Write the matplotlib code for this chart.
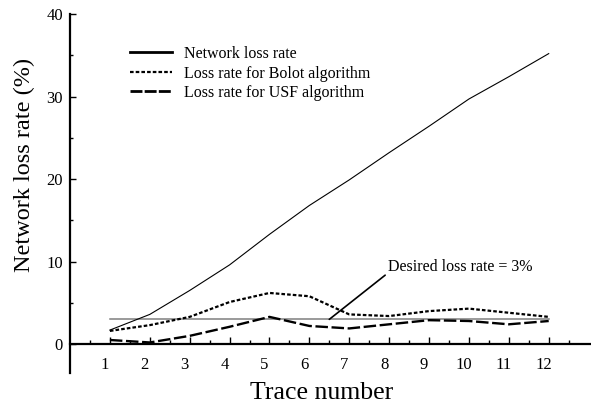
import matplotlib
matplotlib.use("Agg")
import matplotlib.pyplot as plt
from matplotlib.lines import Line2D
from matplotlib.ticker import FixedLocator
import matplotlib.transforms as mtransforms

# ---- data ----
traces = [1, 2, 3, 4, 5, 6, 7, 8, 9, 10, 11, 12]
network_loss = [1.7, 3.6, 6.5, 9.6, 13.3, 16.8, 19.9, 23.2, 26.4, 29.7, 32.4, 35.2]
bolot_loss = [1.6, 2.3, 3.3, 5.1, 6.2, 5.8, 3.6, 3.4, 4.0, 4.3, 3.8, 3.3]
usf_loss = [0.5, 0.2, 1.0, 2.1, 3.3, 2.2, 1.9, 2.4, 2.9, 2.8, 2.4, 2.8]
desired_rate = 3.0
legend_labels = ["Network loss rate", "Loss rate for Bolot algorithm", "Loss rate for USF algorithm"]
x_tick_labels = [str(t) for t in traces]
y_ticks = [0, 10, 20, 30, 40]
annotation_text = "Desired loss rate = 3%"

plt.rcParams["font.family"] = ["Liberation Serif", "DejaVu Serif"]
plt.rcParams["lines.scale_dashes"] = False

W, H, DPI = 591, 405, 100
fig = plt.figure(figsize=(W / DPI, H / DPI), dpi=DPI)
ax_left, ax_right, ax_top, ax_bot = 70, 591, 14, 373
ax = fig.add_axes([ax_left / W, 1 - ax_bot / H, (ax_right - ax_left) / W, (ax_bot - ax_top) / H])
ax.set_xlim(0, 13.06)
ax.set_ylim(-3.5, 40)

# lines
ax.plot(traces, network_loss, color="black", lw=0.8, solid_joinstyle="round")
ax.plot(traces, bolot_loss, color="black", lw=1.6, ls=(0, (2.6, 1.5)))
ax.plot(traces, usf_loss, color="black", lw=1.7, ls=(0, (9.0, 2.6)))
ax.plot([traces[0], traces[-1]], [desired_rate, desired_rate], color="#7f7f7f", lw=1.1, zorder=1)

# annotation
ax.annotate(annotation_text, xy=(6.5, desired_rate), xytext=(7.97, 9.3),
            ha="left", va="center", fontsize=11.5,
            arrowprops=dict(arrowstyle="-", color="black", lw=1.2, shrinkA=0, shrinkB=0,
                            relpos=(0, 0.15)))

# spines
for s in ["top", "right"]:
    ax.spines[s].set_visible(False)
ax.spines["left"].set_linewidth(1.6)
ax.spines["bottom"].set_linewidth(1.6)
ax.spines["bottom"].set_position(("data", 0))

# ticks
ax.xaxis.set_major_locator(FixedLocator(traces))
ax.set_xticklabels(x_tick_labels)
ax.xaxis.set_minor_locator(FixedLocator([t - 0.5 for t in traces] + [traces[-1] + 0.5]))
ax.yaxis.set_major_locator(FixedLocator(y_ticks))
ax.yaxis.set_minor_locator(FixedLocator([5, 15, 25, 35]))
ax.tick_params(axis="x", which="major", direction="in", length=5, width=1, labelsize=12, pad=9)
ax.tick_params(axis="x", which="minor", direction="in", length=3, width=1)
ax.tick_params(axis="y", which="major", direction="in", length=4, width=1, labelsize=12, pad=5)
ax.tick_params(axis="y", which="minor", direction="in", length=2.5, width=1)

off = mtransforms.ScaledTranslation(-5 / DPI, 0, fig.dpi_scale_trans)
for lab in ax.get_xticklabels():
    lab.set_transform(lab.get_transform() + off)

# axis labels
ax.set_xlabel("Trace number", fontsize=18.5)
ax.xaxis.label.set_va("baseline")
ax.xaxis.set_label_coords((322 - ax_left) / (ax_right - ax_left), (ax_bot - 399) / (ax_bot - ax_top))
ax.set_ylabel("Network loss rate (%)", fontsize=17.5)
ax.yaxis.label.set_va("center")
ax.yaxis.set_label_coords((24 - ax_left) / (ax_right - ax_left), (ax_bot - 165) / (ax_bot - ax_top))

# legend
handles = [
    Line2D([], [], color="black", lw=2.0),
    Line2D([], [], color="black", lw=1.6, ls=(0, (2.6, 1.5))),
    Line2D([], [], color="black", lw=2.0, ls=(0, (8.6, 1.6))),
]
ax.legend(handles, legend_labels, loc="upper left", frameon=False, fontsize=11.5,
          handlelength=2.6, handletextpad=0.75, labelspacing=0.22, borderaxespad=0, borderpad=0,
          bbox_to_anchor=((130 - ax_left) / (ax_right - ax_left), (ax_bot - 46) / (ax_bot - ax_top)))

fig.savefig("out.png", dpi=DPI)
